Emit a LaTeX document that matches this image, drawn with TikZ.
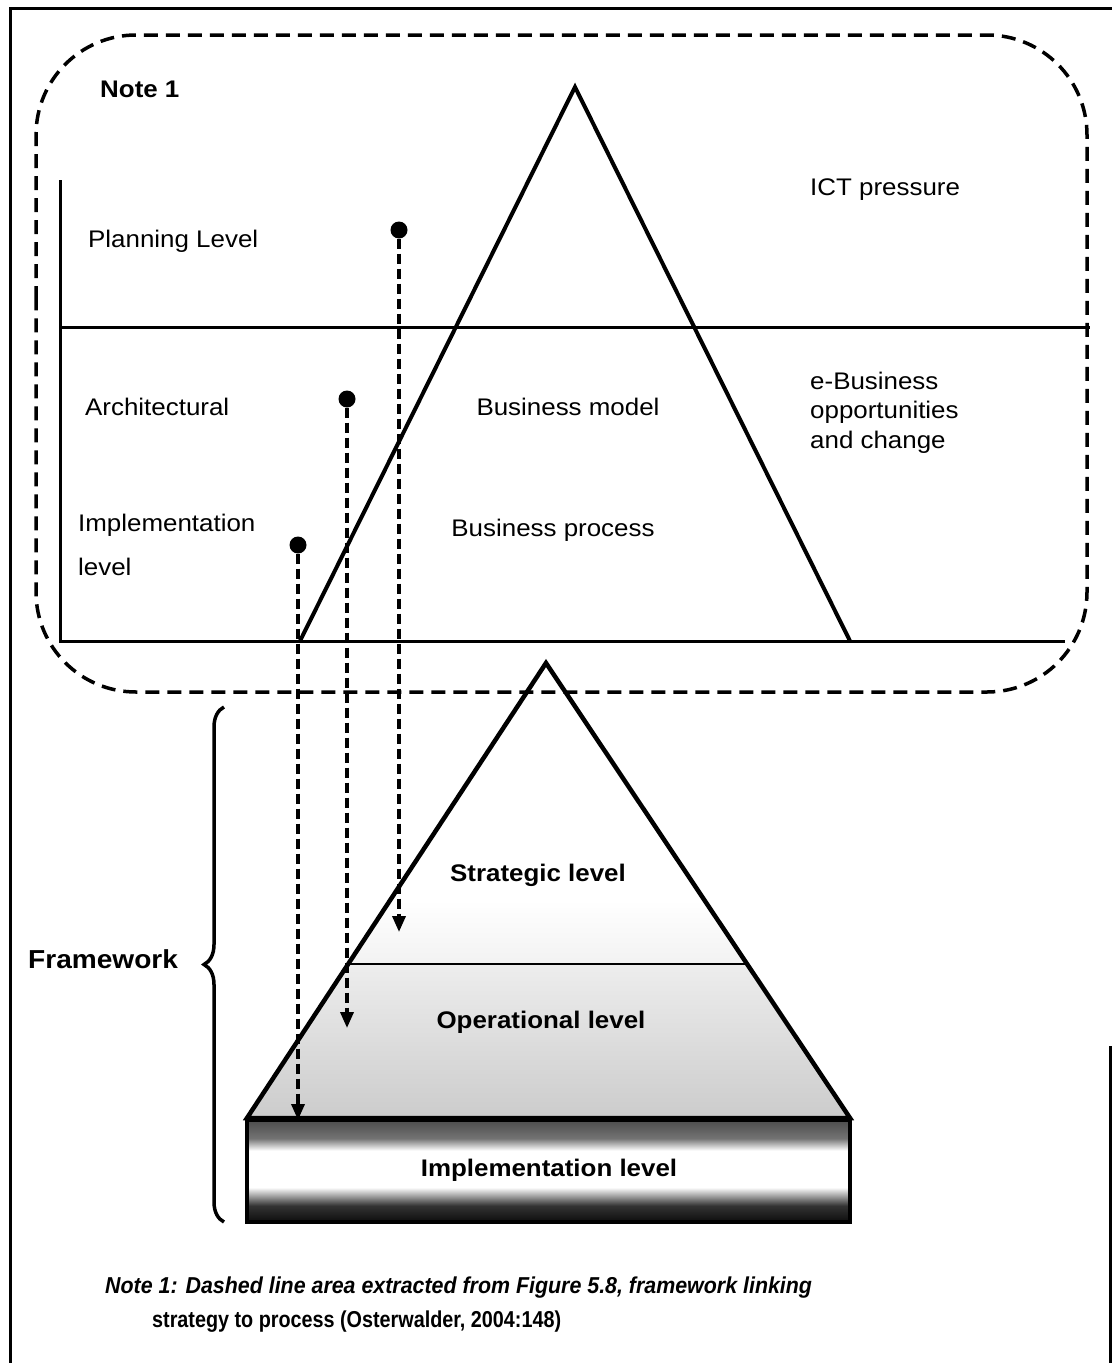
\documentclass[tikz,border=0pt]{standalone}
\usepackage{fontspec}
\setmainfont{Liberation Sans}[FakeStretch=1.08]
\newfontfamily\noteitfont{Liberation Sans}[FakeStretch=0.93]
\newfontfamily\noteupfont{Liberation Sans}[FakeStretch=0.86]
\usetikzlibrary{arrows.meta,decorations.pathreplacing}

% dark band / white centre / dark band, used for the implementation slab
\pgfdeclareverticalshading{implband}{100bp}{%
  color(0bp)=(black!95); color(25bp)=(black!95); color(33bp)=(black!80);
  color(42bp)=(white); color(60bp)=(white); color(66bp)=(black!55);
  color(75bp)=(black!70); color(100bp)=(black!70)}

\begin{document}
\begin{tikzpicture}[x=1pt,y=-1pt,
  lbl/.style={font=\fontsize{24}{28}\selectfont, inner sep=0pt},
  blbl/.style={font=\fontsize{24}{28}\selectfont\bfseries, inner sep=0pt},
  dot/.style={circle, fill=black, minimum size=17pt, inner sep=0pt},
  link/.style={line width=3.5pt, dash pattern=on 10pt off 5pt,
    -{Triangle[length=16pt,width=13pt]}},
  outerline/.style={line width=3pt},
  thinrule/.style={line width=3pt},
  pyr/.style={line width=4pt, line join=miter},
  noteborder/.style={line width=3.5pt, dash pattern=on 14pt off 8pt}]

\useasboundingbox (0,0) rectangle (1112,1363);

% page frame
\draw[outerline] (10,1363) -- (10,8) -- (1112,8);
\draw[outerline] (1110,1046) -- (1110,1363);

% ---------- dashed note area ----------
\draw[noteborder, rounded corners=100pt]
  (36,400) -- (36,35) -- (1087,35) -- (1087,692) -- (36,692) -- cycle;

\node[blbl, anchor=base west] (note) at (100,97) {Note 1};

% level axis and rules
\draw[thinrule] (60,180) -- (60,641) -- (1065,641);
\draw[thinrule] (60,327) -- (1090,327);

% strategy-to-process pyramid
\draw[pyr] (300,641) -- (575,87) -- (850,641);

\node[lbl, anchor=base west] (ict) at (810,195) {ICT pressure};
\node[lbl, anchor=base west] (plan) at (88,247) {Planning Level};
\node[lbl, anchor=base west] (arch) at (85,415) {Architectural};
\node[lbl, anchor=base] (bmodel) at (568,415) {Business model};
\node[lbl, anchor=base west, align=left, font=\fontsize{24}{29.5}\selectfont]
  (ebiz) at (810,448) {e-Business\\opportunities\\and change};
\node[lbl, anchor=base west, align=left, font=\fontsize{24}{44}\selectfont]
  (impl) at (78,575) {Implementation\\level};
\node[lbl, anchor=base] (bproc) at (553,536) {Business process};

% ---------- framework pyramid ----------
\fill[top color=gray!14, bottom color=gray!40]
  (348,964) -- (747,964) -- (850,1118) -- (247,1118) -- cycle;
\fill[top color=white, bottom color=gray!10]
  (392,900) -- (705,900) -- (747,964) -- (348,964) -- cycle;
\shade[shading=implband] (247,1120) rectangle (850,1222);
\draw[line width=4pt] (247,1120) rectangle (850,1222);
\draw[line width=2.5pt] (348,964) -- (745,964);
\draw[pyr, line width=4.5pt] (247,1118) -- (546,663) -- (850,1118) -- cycle;

\node[blbl, anchor=base] (strat) at (538,881) {Strategic level};
\node[blbl, anchor=base] (oper) at (541,1028) {Operational level};
\node[blbl, anchor=base] (implv) at (549,1176) {Implementation level};

% framework brace
\draw[line width=3.5pt, decorate, decoration={brace, amplitude=20pt}]
  (224,1222) -- (224,707) coordinate (bracetop);
\node[blbl, anchor=base west, font=\fontsize{26}{30}\selectfont\bfseries]
  (fw) at (28,968) {Framework};

% ---------- level links ----------
\node[dot] (d1) at (399,230) {};
\node[dot] (d2) at (347,399) {};
\node[dot] (d3) at (298,545) {};
\coordinate (e1) at (399,932);
\coordinate (e2) at (347,1028);
\coordinate (e3) at (298,1120);
\draw[link] (d1.south) -- (e1);
\draw[link] (d2.south) -- (e2);
\draw[link] (d3.south) -- (e3);

% ---------- source note ----------
\node[anchor=base west, inner sep=0pt, font=\fontsize{23}{27}\noteitfont\bfseries\itshape]
  (src1) at (105,1293) {Note 1: Dashed line area extracted from Figure 5.8, framework linking};
\node[anchor=base west, inner sep=0pt, font=\fontsize{23}{27}\noteupfont\bfseries]
  (src2) at (152,1327) {strategy to process (Osterwalder, 2004:148)};
\end{tikzpicture}
\end{document}
